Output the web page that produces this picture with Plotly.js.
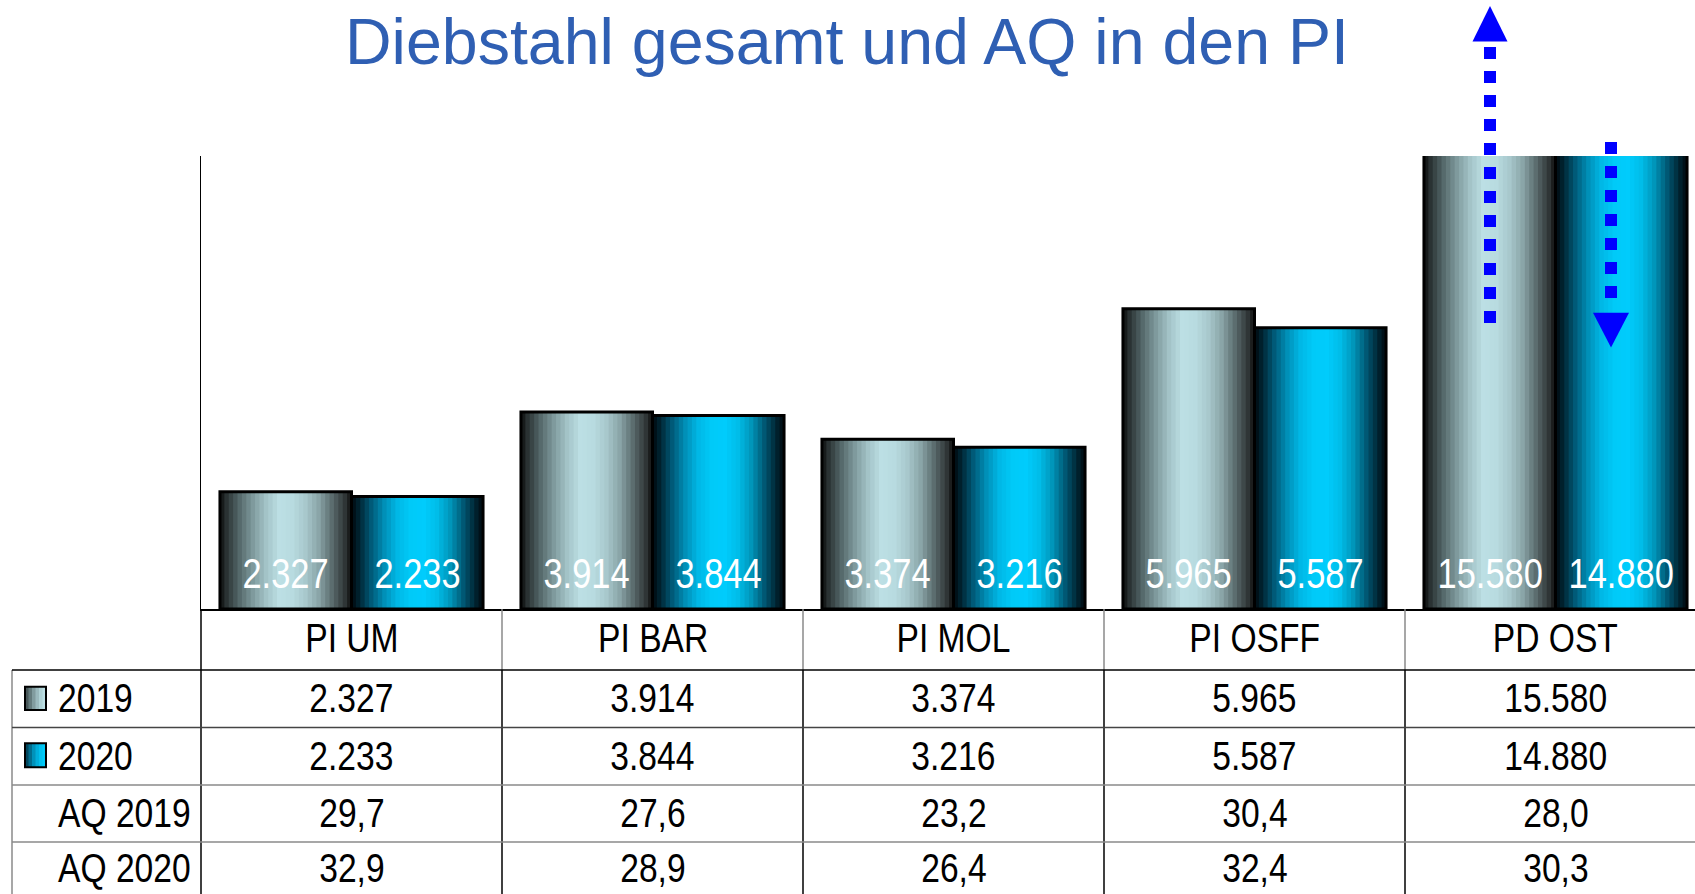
<!DOCTYPE html>
<html><head><meta charset="utf-8">
<script src="https://cdn.plot.ly/plotly-3.0.1.min.js"></script>
<style>html,body{margin:0;padding:0;background:#fff;overflow:hidden}#chart{width:1695px;height:894px}</style>
</head><body><div id="chart"></div>
<script>
// ---- data ----
const categories = ['PI UM', 'PI BAR', 'PI MOL', 'PI OSFF', 'PD OST'];
const values2019 = [2327, 3914, 3374, 5965, 15580];
const values2020 = [2233, 3844, 3216, 5587, 14880];
const aq2019 = [29.7, 27.6, 23.2, 30.4, 28.0];
const aq2020 = [32.9, 28.9, 26.4, 32.4, 30.3];
const seriesNames = ['2019', '2020'];
const aqNames = ['AQ 2019', 'AQ 2020'];
const chartTitle = 'Diebstahl gesamt und AQ in den PI';

// ---- layout geometry ----
const W = 1695, H = 894;
const L = 201, R = 0, T = 156, B = 285;
const plotW = W - L - R, plotH = H - T - B;
const catPx = 301;
const xMin = -0.5, xMax = -0.5 + plotW / catPx;
const px2x = p => (p - L) / plotW;
const px2y = p => (H - B - p) / plotH;
const cat2paper = c => (c - xMin) / (xMax - xMin);

const SANS = '"Liberation Sans", Arial, sans-serif';
const NARROW_SCALE = 0.82;
const barW = 0.437;

const seriesStyle = [
  { offset: -barW, stops: [[0, '#0d0f0f'], [0.05, '#2a3233'], [0.15, '#566a6c'], [0.25, '#7f9a9d'], [0.35, '#a3c3c7'], [0.45, '#bcdfe4'], [0.55, '#b8dbe0'], [0.65, '#a8c8cc'], [0.75, '#8aa5a8'], [0.85, '#5c6d6f'], [0.95, '#2f3536'], [1, '#111111']] },
  { offset: 0, stops: [[0, '#000a10'], [0.05, '#00202c'], [0.15, '#005a78'], [0.25, '#0090b8'], [0.35, '#00b8e6'], [0.45, '#00caf8'], [0.55, '#00ccfc'], [0.65, '#00bde9'], [0.75, '#0096ba'], [0.85, '#005874'], [0.95, '#00202c'], [1, '#000a10']] }
];

function hex2rgb(h) { return [1, 3, 5].map(i => parseInt(h.substr(i, 2), 16)); }
function interp(stops, t) {
  for (let k = 0; k < stops.length - 1; k++) {
    const [p0, c0] = stops[k], [p1, c1] = stops[k + 1];
    if (t >= p0 && t <= p1) {
      const f = (t - p0) / (p1 - p0);
      const a = hex2rgb(c0), b = hex2rgb(c1);
      return 'rgb(' + a.map((v, j) => Math.round(v + (b[j] - v) * f)).join(',') + ')';
    }
  }
  return stops[stops.length - 1][1];
}
const fmtInt = v => String(v).replace(/\B(?=(\d{3})+(?!\d))/g, '.');
const fmtDec = v => v.toFixed(1).replace('.', ',');

// ---- traces ----
const traces = [];
const N = 30;
[values2019, values2020].forEach((vals, s) => {
  const st = seriesStyle[s];
  for (let i = 0; i < N; i++) {
    traces.push({
      type: 'bar', x: categories, y: vals,
      offset: st.offset + i * barW / N,
      width: barW / N + (i < N - 1 ? 0.004 : 0),
      marker: { color: interp(st.stops, (i + 0.5) / N), line: { width: 0 } },
      hoverinfo: 'skip', showlegend: false
    });
  }
});
[values2019, values2020].forEach((vals, s) => {
  traces.push({
    type: 'bar', x: categories, y: vals, name: seriesNames[s],
    offset: seriesStyle[s].offset, width: barW,
    marker: { color: 'rgba(0,0,0,0)', line: { color: '#000', width: 3 } },
    hoverinfo: 'x+y', showlegend: false
  });
});

// ---- annotations ----
const ann = [];
[values2019, values2020].forEach((vals, s) => {
  vals.forEach((v, i) => {
    ann.push({ xref: 'x', yref: 'y', x: i + seriesStyle[s].offset + barW / 2, y: 0, yshift: 36,
      text: fmtInt(v), showarrow: false, xanchor: 'center', yanchor: 'middle',
      font: { family: SANS, size: 42, color: '#ffffff' } });
  });
});
const rowCenters = [698, 755.5, 813, 867.5];
const tableRows = [values2019.map(fmtInt), values2020.map(fmtInt), aq2019.map(fmtDec), aq2020.map(fmtDec)];
const rowLabels = [seriesNames[0], seriesNames[1], aqNames[0], aqNames[1]];
categories.forEach((c, i) => {
  ann.push({ xref: 'x', yref: 'paper', x: c, y: px2y(637.5), text: c, showarrow: false,
    xanchor: 'center', yanchor: 'middle', font: { family: SANS, size: 41, color: '#000' } });
});
tableRows.forEach((row, r) => {
  row.forEach((txt, i) => {
    ann.push({ xref: 'x', yref: 'paper', x: categories[i], y: px2y(rowCenters[r]), text: txt, showarrow: false,
      xanchor: 'center', yanchor: 'middle', font: { family: SANS, size: 41, color: '#000' } });
  });
  ann.push({ xref: 'paper', yref: 'paper', x: px2x(56), y: px2y(rowCenters[r]), text: rowLabels[r], showarrow: false,
    xanchor: 'left', yanchor: 'middle', font: { family: SANS, size: 41, color: '#000' } });
});

// ---- shapes: table grid ----
const shapes = [];
const line = (x0, y0, x1, y1, color, width) => shapes.push({ type: 'line', xref: 'paper', yref: 'paper', x0, y0, x1, y1, line: { color, width } });
for (let k = 0; k < categories.length; k++) {
  const xp = cat2paper(k - 0.5);
  line(xp, px2y(609), xp, px2y(670), k === 0 ? '#000' : '#8a8a8a', 1.5);
  line(xp, px2y(670), xp, px2y(894), '#000', 1.5);
}
line(px2x(12), px2y(670), px2x(12), px2y(894), '#8a8a8a', 1.5);
line(px2x(12), px2y(670), 1, px2y(670), '#000', 1.5);
line(px2x(12), px2y(727.5), 1, px2y(727.5), '#444', 1.5);
line(px2x(12), px2y(785), 1, px2y(785), '#8a8a8a', 1.5);
line(px2x(12), px2y(842), 1, px2y(842), '#8a8a8a', 1.5);

// legend keys in table
[[686.7, 710], [743.3, 767.3]].forEach((yy, s) => {
  const M = 6, x0 = 25, x1 = 46;
  for (let i = 0; i < M; i++) {
    shapes.push({ type: 'rect', xref: 'paper', yref: 'paper',
      x0: px2x(x0 + (x1 - x0) * i / M), x1: px2x(x0 + (x1 - x0) * (i + 1) / M + 0.5),
      y0: px2y(yy[1]), y1: px2y(yy[0]), line: { width: 0 },
      fillcolor: interp(seriesStyle[s].stops, 0.08 + 0.42 * (i + 0.5) / M) });
  }
  shapes.push({ type: 'rect', xref: 'paper', yref: 'paper', x0: px2x(x0), x1: px2x(x1),
    y0: px2y(yy[1]), y1: px2y(yy[0]), line: { color: '#000', width: 2 }, fillcolor: 'rgba(0,0,0,0)' });
});

// dotted arrows
const BLUE = '#0000ff';
shapes.push({ type: 'line', xref: 'paper', yref: 'paper', x0: px2x(1490), x1: px2x(1490), y0: px2y(47), y1: px2y(323),
  line: { color: BLUE, width: 12, dash: 'dot' } });
shapes.push({ type: 'path', xref: 'paper', yref: 'paper', fillcolor: BLUE, line: { width: 0 },
  path: `M ${px2x(1472.5)},${px2y(41.5)} L ${px2x(1507.5)},${px2y(41.5)} L ${px2x(1490)},${px2y(6)} Z` });
shapes.push({ type: 'line', xref: 'paper', yref: 'paper', x0: px2x(1611), x1: px2x(1611), y0: px2y(142), y1: px2y(298),
  line: { color: BLUE, width: 12, dash: 'dot' } });
shapes.push({ type: 'path', xref: 'paper', yref: 'paper', fillcolor: BLUE, line: { width: 0 },
  path: `M ${px2x(1593)},${px2y(312.7)} L ${px2x(1629)},${px2y(312.7)} L ${px2x(1611)},${px2y(347.4)} Z` });

const layout = {
  width: W, height: H,
  margin: { l: L, r: R, t: T, b: B, pad: 0 },
  paper_bgcolor: '#fff', plot_bgcolor: '#fff',
  barmode: 'overlay',
  showlegend: false,
  title: { text: chartTitle, font: { family: SANS, size: 64.5, color: '#2F5FB3' },
    x: 847 / W, xanchor: 'center', xref: 'container', y: 1 - 41 / H, yanchor: 'middle', yref: 'container' },
  xaxis: { type: 'category', range: [xMin, xMax], showline: true, linecolor: '#000', linewidth: 1.5,
    showticklabels: false, ticks: '', showgrid: false, zeroline: false, fixedrange: true },
  yaxis: { range: [0, 9000], showline: true, linecolor: '#000', linewidth: 1.5,
    showticklabels: false, ticks: '', showgrid: false, zeroline: false, fixedrange: true },
  annotations: ann,
  shapes: shapes
};
Plotly.newPlot('chart', traces, layout, { displayModeBar: false, staticPlot: true }).then(gd => {
  // render the table and bar-label texts in a narrow (Arial Narrow like) width
  gd.querySelectorAll('.annotation').forEach(g => {
    const idx = +g.getAttribute('data-index');
    const a = layout.annotations[idx];
    const t = g.querySelector('text.annotation-text');
    if (!t || !a) return;
    t.style.transformBox = 'fill-box';
    t.style.transformOrigin = a.xanchor === 'left' ? 'left center' : 'center center';
    t.style.transform = 'scaleX(' + NARROW_SCALE + ')';
  });
});
</script>
</body></html>
